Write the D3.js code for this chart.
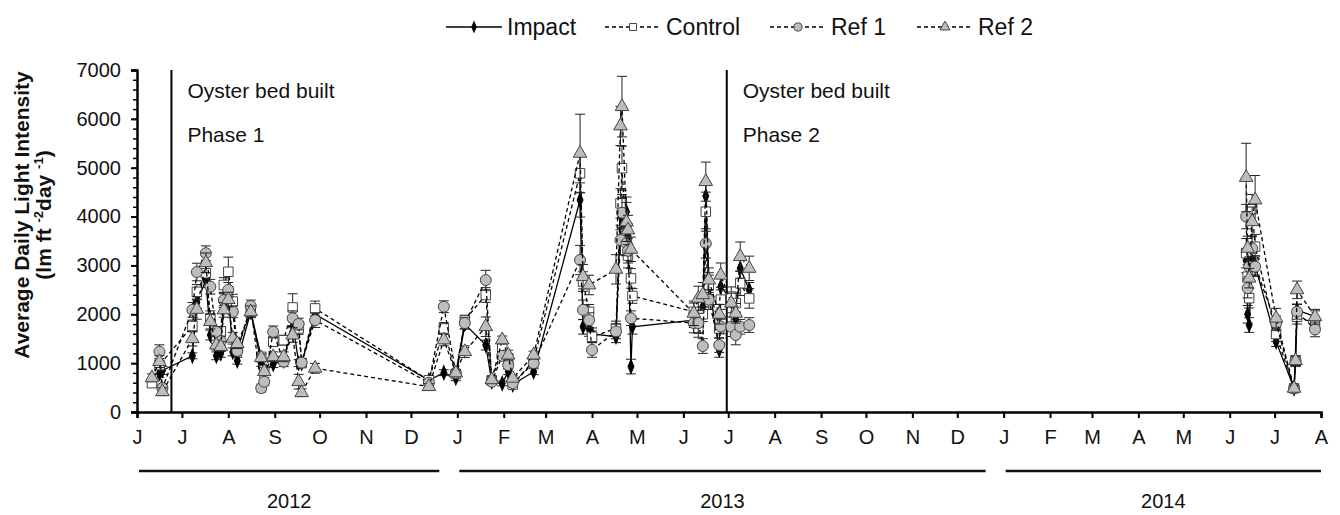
<!DOCTYPE html>
<html>
<head>
<meta charset="utf-8">
<script src="https://cdn.jsdelivr.net/npm/d3@7"></script>
<style>
  html, body { margin: 0; padding: 0; background: #fff; }
  svg { display: block; font-family: Arial, "Liberation Sans", sans-serif; }
</style>
</head>
<body>
<svg id="chart" width="1340" height="515"></svg>
<script>
// sampling dates, shared by all four sites
const dates = [
  '2012-06-11','2012-06-16','2012-06-18','2012-07-08','2012-07-11','2012-07-17','2012-07-20','2012-07-24','2012-07-27','2012-07-29','2012-08-01',
  '2012-08-04','2012-08-07','2012-08-16','2012-08-23','2012-08-25','2012-08-31','2012-09-07','2012-09-13','2012-09-17','2012-09-19','2012-09-28',
  '2012-12-13','2012-12-23','2012-12-31','2013-01-06','2013-01-20','2013-01-24','2013-01-31','2013-02-04','2013-02-07','2013-02-21','2013-03-24',
  '2013-03-26','2013-03-30','2013-04-01','2013-04-17','2013-04-20','2013-04-21','2013-04-24','2013-04-25','2013-04-27','2013-04-28',
  '2013-06-08','2013-06-11','2013-06-14','2013-06-16','2013-06-18','2013-06-25','2013-06-26','2013-07-03','2013-07-06','2013-07-09','2013-07-15',
  '2014-06-12','2014-06-13','2014-06-14','2014-06-16','2014-06-18','2014-07-02','2014-07-14','2014-07-15','2014-07-16','2014-07-28'
];

const impact = [
  null, 790, 850, 1150, 2240, 2700, 1575, 1150, 1200, 2300, 2400, 1230, 1050, 2050, 995, 850, 980, 1050, 1850, 1000, 1000, 2000,
  650, 805, 700, 1800, 1370, 620, 585, 825, 560, 825, 4340, 1745, 1700, 1600, 1540, 4030, 4100, 4100, 3600, 930, 1745,
  1880, 1950, 2155, 4420, 2600, 1270, 2565, 2300, 1900, 2940, 2500,
  3100, 2000, 1780, 3050, 3000, 1440, 485, null, 2090, 1950
];
const impactErr = [
  null, 80, 80, 60, 120, 150, 100, 80, 80, 120, 120, 80, 70, 100, 60, 60, 70, 70, 100, 70, 60, 100,
  60, 60, 60, 100, 100, 60, 50, 60, 50, 60, 350, 150, 150, 120, 120, 300, 350, 300, 250, 150, 150,
  150, 150, 150, 300, 200, 150, 200, 150, 150, 200, 150,
  250, 180, 150, 250, 200, 100, 60, null, 120, 120
];

const control = [
  590, 960, null, 1760, 2460, 2840, 1920, 1500, 1650, 2600, 2870, 2260, 1300, 2050, 1130, 850, 1440, 1470, 2140, 1710, 1000, 2120,
  650, 1710, 780, 1880, 2395, 650, 1310, 1100, 560, 1050, 4885, 2670, 2050, 1540, 1710, 4270, 4990, 3500, 3200, 2735, 2375,
  2050, 1710, 2000, 4100, 2600, 1710, 2300, 2360, 2230, 2634, 2325,
  3250, 2770, 2330, 4150, 3385, 1595, 485, 1030, 1950, 1815
];
const controlErr = [
  80, 100, null, 120, 150, 180, 150, 100, 100, 150, 300, 150, 100, 100, 80, 80, 100, 100, 280, 120, 80, 150,
  60, 120, 60, 100, 150, 60, 80, 80, 50, 80, 400, 200, 150, 120, 150, 300, 450, 300, 250, 200, 150,
  180, 180, 150, 400, 250, 200, 200, 200, 200, 250, 200,
  300, 250, 200, 300, 250, 150, 60, 100, 150, 120
];

const ref1 = [
  null, 1235, 490, 2090, 2865, 3250, 2565, 1640, 1450, 2290, 2500, 2050, 1250, 2170, 490, 620, 1640, 1030, 1920, 1800, 1010, 1880,
  600, 2155, 800, 1820, 2700, 620, 1150, 960, 590, 1000, 3110, 2090, 1880, 1270, 1650, 3520, 4080, 3450, 3300, 1920, null,
  1820, 1820, 1350, 3450, 2300, 1370, 1750, 1745, 1575, 1745, 1780,
  4000, 2535, 2975, 3350, 2975, 1815, 485, 1050, 2050, 1690
];
const ref1Err = [
  null, 140, 80, 150, 180, 150, 150, 100, 100, 150, 150, 120, 100, 120, 80, 80, 120, 100, 150, 120, 80, 150,
  60, 120, 60, 120, 200, 60, 80, 80, 50, 80, 300, 200, 150, 150, 150, 300, 300, 250, 250, 150, null,
  200, 200, 150, 300, 200, 150, 150, 200, 200, 150, 150,
  250, 200, 200, 250, 200, 150, 60, 100, 150, 150
];

const ref2 = [
  700, 1030, 415, 1500, 2100, 3055, 1850, 1370, 1340, 2090, 2300, 1510, 1400, 2050, 1110, 825, 1130, 1130, 1575, 620, 395, 895,
  520, 1475, 800, 1234, 1746, 660, 1475, 1165, 690, 1165, 5295, 2770, 2600, null, 2920, 5855, 6250, 3890, 3725, 3330, null,
  2020, 2325, 2400, 4715, 2700, 2000, 2800, 2230, 2020, 3180, 2940,
  4800, 3350, 2740, 3895, 4340, 1920, 485, 1050, 2500, 1950
];
const ref2Err = [
  80, 120, 80, 150, 200, 200, 150, 100, 100, 150, 150, 120, 100, 120, 80, 80, 100, 100, 150, 150, 80, 100,
  60, 120, 60, 120, 200, 60, 80, 100, 50, 80, 800, 250, 200, null, 300, 400, 620, 400, 300, 250, null,
  250, 250, 250, 400, 250, 200, 250, 200, 200, 300, 250,
  700, 250, 200, 300, 500, 200, 60, 100, 180, 150
];

const seriesNames = ['Impact', 'Control', 'Ref 1', 'Ref 2'];
const yTicks = [0, 1000, 2000, 3000, 4000, 5000, 6000, 7000];
const xDomain = ['2012-06-01', '2014-08-01'];
const years = ['2012', '2013', '2014'];
const phaseDates = ['2012-06-24', '2013-06-30'];
const phaseLabels = ['Phase 1', 'Phase 2'];

const parse = d3.utcParse('%Y-%m-%d');
const svg = d3.select('#chart');
svg.append('rect').attr('width', 1340).attr('height', 515).attr('fill', '#fff');

const x = d3.scaleUtc().domain(xDomain.map(parse)).range([137, 1321]);
const y = d3.scaleLinear().domain([0, 7000]).range([412, 70]);

const styles = {
  'Impact': { values: impact, err: impactErr, dash: null, symbol: d3.symbolDiamond, size: 50, fill: '#000', stroke: '#000' },
  'Control': { values: control, err: controlErr, dash: '4,3', symbol: d3.symbolSquare, size: 90, fill: '#fff', stroke: '#444' },
  'Ref 1': { values: ref1, err: ref1Err, dash: '4,3', symbol: d3.symbolCircle, size: 95, fill: '#bdbdbd', stroke: '#444' },
  'Ref 2': { values: ref2, err: ref2Err, dash: '4,3', symbol: d3.symbolTriangle, size: 80, fill: '#bdbdbd', stroke: '#444' },
};

// y axis with minor ticks
svg.append('g')
  .attr('transform', 'translate(137,0)')
  .call(d3.axisLeft(y).tickValues(d3.range(0, 7001, 200)).tickSize(4).tickFormat(''))
  .call((g) => g.selectAll('line').attr('stroke-width', 1.5))
  .call((g) => g.select('.domain').remove());
svg.append('g')
  .attr('transform', 'translate(137,0)')
  .call(d3.axisLeft(y).tickValues(yTicks).tickSize(6).tickPadding(10).tickFormat(d3.format('d')))
  .call((g) => g.select('.domain').attr('stroke-width', 2.5))
  .call((g) => g.selectAll('line').attr('stroke-width', 2))
  .call((g) => g.selectAll('text').attr('font-size', 20).attr('fill', '#111'));

// x axis, one letter per month
svg.append('g')
  .attr('transform', 'translate(0,412)')
  .call(d3.axisBottom(x).ticks(d3.utcMonth.every(1)).tickSize(6).tickPadding(12)
    .tickFormat((d) => d3.utcFormat('%b')(d).charAt(0)))
  .call((g) => g.select('.domain').attr('stroke-width', 2.5))
  .call((g) => g.selectAll('line').attr('stroke-width', 2))
  .call((g) => g.selectAll('text').attr('font-size', 20).attr('fill', '#111'));

// year bands under the month axis
const [domainStart, domainEnd] = x.domain();
years.forEach((year) => {
  const start = new Date(Math.max(parse(`${year}-01-01`), domainStart));
  const endRaw = parse(`${+year + 1}-01-01`);
  const end = new Date(Math.min(endRaw, domainEnd));
  const x0 = x(start) + 2;
  const x1 = endRaw > domainEnd ? x(end) : x(end) - 18;
  svg.append('line').attr('x1', x0).attr('x2', x1).attr('y1', 471).attr('y2', 471)
    .attr('stroke', '#111').attr('stroke-width', 2.5);
  svg.append('text').attr('x', (x0 + x1) / 2).attr('y', 508).attr('text-anchor', 'middle')
    .attr('font-size', 20).attr('fill', '#111').text(year);
});

// oyster bed lines
phaseDates.forEach((d, i) => {
  const px = x(parse(d));
  svg.append('line').attr('x1', px).attr('x2', px).attr('y1', y(7000)).attr('y2', y(0))
    .attr('stroke', '#000').attr('stroke-width', 2);
  svg.append('text').attr('x', px + 16).attr('y', 98).attr('font-size', 21).attr('fill', '#111').text('Oyster bed built');
  svg.append('text').attr('x', px + 16).attr('y', 142).attr('font-size', 21).attr('fill', '#111').text(phaseLabels[i]);
});

// y title
const title = svg.append('text').attr('transform', 'translate(29,215) rotate(-90)')
  .attr('text-anchor', 'middle').attr('font-size', 21).attr('font-weight', 'bold').attr('fill', '#111');
title.append('tspan').attr('x', 0).attr('dy', 0).text('Average Daily Light Intensity');
const sub = svg.append('text').attr('transform', 'translate(51,215) rotate(-90)')
  .attr('text-anchor', 'middle').attr('font-size', 21).attr('font-weight', 'bold').attr('fill', '#111');
sub.append('tspan').text('(lm ft ');
sub.append('tspan').attr('font-size', 13).attr('dy', -8).text('-2');
sub.append('tspan').attr('dy', 8).text('day ');
sub.append('tspan').attr('font-size', 13).attr('dy', -8).text('-1');
sub.append('tspan').attr('dy', 8).text(')');

// series
const points = (name) => dates.map((d, i) => ({
  date: parse(d), value: styles[name].values[i], err: styles[name].err[i],
})).filter((p) => p.value != null);

const plot = svg.append('g');
seriesNames.forEach((name) => {
  const s = styles[name];
  const pts = points(name);
  // break the line where sampling stops for a season
  const segments = [];
  pts.forEach((p, i) => {
    if (i === 0 || (p.date - pts[i - 1].date) / 864e5 > 150) segments.push([]);
    segments[segments.length - 1].push(p);
  });
  const line = d3.line().x((p) => x(p.date)).y((p) => y(p.value));
  const g = plot.append('g');
  g.selectAll('path.seg').data(segments).join('path').attr('class', 'seg')
    .attr('fill', 'none').attr('stroke', '#000').attr('stroke-width', 1.3)
    .attr('stroke-dasharray', s.dash).attr('d', line);
  const eb = g.selectAll('g.err').data(pts.filter((p) => p.err)).join('g').attr('class', 'err')
    .attr('stroke', '#222').attr('stroke-width', 1);
  eb.append('line').attr('x1', (p) => x(p.date)).attr('x2', (p) => x(p.date))
    .attr('y1', (p) => y(p.value - p.err)).attr('y2', (p) => y(p.value + p.err));
  [1, -1].forEach((sign) => eb.append('line')
    .attr('x1', (p) => x(p.date) - 5).attr('x2', (p) => x(p.date) + 5)
    .attr('y1', (p) => y(p.value + sign * p.err)).attr('y2', (p) => y(p.value + sign * p.err)));
  g.selectAll('path.mark').data(pts).join('path').attr('class', 'mark')
    .attr('d', d3.symbol(s.symbol, s.size))
    .attr('transform', (p) => `translate(${x(p.date)},${y(p.value)})` + (name === 'Impact' ? ' scale(0.8,1.1)' : ''))
    .attr('fill', s.fill).attr('stroke', s.stroke).attr('stroke-width', 1);
});

// legend
const legendX = [446, 605, 770, 917];
seriesNames.forEach((name, i) => {
  const s = styles[name];
  const g = svg.append('g').attr('transform', `translate(${legendX[i]},27)`);
  g.append('line').attr('x1', 0).attr('x2', 56).attr('stroke', '#000').attr('stroke-width', 1.3)
    .attr('stroke-dasharray', s.dash);
  g.append('path').attr('d', d3.symbol(s.symbol, s.size * 0.55))
    .attr('transform', 'translate(28,0)' + (name === 'Impact' ? ' scale(0.8,1.1)' : ''))
    .attr('fill', s.fill).attr('stroke', s.stroke);
  g.append('text').attr('x', 61).attr('y', 8).attr('font-size', 23).attr('fill', '#111').text(name);
});
</script>
</body>
</html>
